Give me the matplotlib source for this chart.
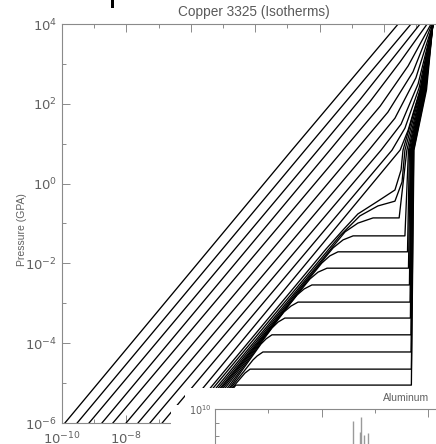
import matplotlib
matplotlib.use("Agg")
import matplotlib.pyplot as plt
import numpy as np
from matplotlib.patches import Polygon, Rectangle
from matplotlib.ticker import FixedLocator, FuncFormatter, NullFormatter

plt.rcParams['font.family'] = ['Liberation Sans', 'DejaVu Sans']
plt.rcParams['mathtext.fontset'] = 'dejavusans'

# ---- Copper 3325 isotherms: vertices as log10 density (g/cc), log10 pressure (GPa)
# hot (supercritical) isotherms
hot_log_rho = [
    [-9.91, -2.86, 0.44],
    [-9.53, -2.45, 0.84],
    [-9.16, -2.05, -0.75, 1.12],
    [-8.76, -1.68, -0.44, 0.50, 1.34],
    [-8.42, -1.27, -0.12, 0.75, 1.46],
    [-8.01, -0.87, 0.12, 0.90, 1.49],
    [-7.64, -0.47, 0.34, 0.99, 1.52],
    [-7.27, -0.09, 0.53, 1.06, 1.52],
    [-6.89, 0.25, 0.65, 1.09, 1.52],
    [-6.52, 0.50, 0.75, 1.12, 1.52],
]
hot_log_p = [
    [-6.0, 0.84, 4.0],
    [-6.0, 0.84, 4.0],
    [-6.0, 0.84, 2.10, 4.0],
    [-6.0, 0.84, 2.05, 3.05, 4.0],
    [-6.0, 0.84, 1.94, 2.95, 4.0],
    [-6.0, 0.84, 1.79, 2.80, 4.0],
    [-6.0, 0.84, 1.64, 2.65, 4.0],
    [-6.0, 0.84, 1.49, 2.50, 4.0],
    [-6.0, 0.84, 1.39, 2.40, 4.0],
    [-6.0, 0.84, 1.34, 2.35, 4.0],
]

# isotherms just above the critical point (shoulder shape)
crit_log_rho = [
    [-6.30, -5.37, -1.80, -1.27, -0.81, -0.19, 0.34, 0.53, 0.59, 1.13, 1.52],
    [-6.21, -5.28, -1.37, -0.75, -0.19, 0.34, 0.56, 0.65, 1.15, 1.52],
]
crit_log_p = [
    [-6.0, -5.10, -1.64, -1.16, -0.76, -0.44, -0.16, 0.34, 0.84, 2.35, 4.0],
    [-6.0, -5.10, -1.31, -0.81, -0.56, -0.44, 0.04, 0.84, 2.35, 4.0],
]

# subcritical isotherms: vapour branch, liquid-vapour plateau, liquid branch
sub_log_rho = [
    [-6.12, -5.19, -1.21, -0.81, -0.34, 0.47, 0.71, 1.17, 1.52],
    [-6.04, -5.12, -1.58, -1.27, -0.96, 0.65, 0.76, 1.18, 1.52],
    [-5.96, -5.06, -1.93, -1.68, -1.43, 0.73, 0.79, 1.20, 1.52],
    [-5.92, -5.02, -2.30, -2.05, -1.77, 0.76, 0.82, 1.21, 1.52],
    [-5.87, -4.97, -2.70, -2.48, -2.24, 0.79, 0.84, 1.23, 1.52],
    [-5.81, -4.91, -3.11, -2.89, -2.67, 0.81, 0.85, 1.24, 1.52],
    [-5.75, -4.84, -3.48, -3.29, -3.08, 0.82, 0.87, 1.26, 1.52],
    [-5.68, -4.78, -3.82, -3.66, -3.48, 0.84, 0.89, 1.27, 1.52],
    [-5.64, -4.74, -4.07, -3.94, -3.76, 0.84, 0.90, 1.29, 1.52],
    [-5.59, -4.69, -4.32, -4.16, 0.85, 0.92, 1.30, 1.52],
    [-5.55, -4.60, 0.85, 0.93, 1.32, 1.52],
]
sub_log_p = [
    [-6.0, -5.10, -1.21, -0.99, -0.86, -0.86, 0.84, 2.35, 4.0],
    [-6.0, -5.10, -1.61, -1.41, -1.31, -1.31, 0.84, 2.35, 4.0],
    [-6.0, -5.10, -1.99, -1.81, -1.71, -1.71, 0.84, 2.35, 4.0],
    [-6.0, -5.10, -2.39, -2.22, -2.12, -2.12, 0.84, 2.35, 4.0],
    [-6.0, -5.10, -2.79, -2.64, -2.54, -2.54, 0.84, 2.35, 4.0],
    [-6.0, -5.10, -3.22, -3.07, -2.97, -2.97, 0.84, 2.35, 4.0],
    [-6.0, -5.10, -3.62, -3.47, -3.37, -3.37, 0.84, 2.35, 4.0],
    [-6.0, -5.10, -4.02, -3.89, -3.79, -3.79, 0.84, 2.35, 4.0],
    [-6.0, -5.10, -4.42, -4.32, -4.22, -4.22, 0.84, 2.35, 4.0],
    [-6.0, -5.10, -4.75, -4.65, -4.65, 0.84, 2.35, 4.0],
    [-6.0, -5.05, -5.05, 0.84, 2.35, 4.0],
]

x_major_exp = [-10, -8, -6, -4, -2, 0, 2]
x_minor_exp = [-9, -7, -5, -3, -1, 1]
y_major_exp = [-6, -4, -2, 0, 2, 4]
y_minor_exp = [-5, -3, -1, 1, 3]

# ---- Aluminum panel (partially visible)
al_log_rho = [-7.41, -7.28, -7.26, -7.20, -7.13]
al_log_top = [9.11, 8.30, 9.41, 8.07, 8.22]

W, H = 436, 444
fig = plt.figure(figsize=(W / 100, H / 100), dpi=100)
fig.patch.set_facecolor('white')

GRAY = '#8a8a8a'
TXT = '#606060'


def pow10(v, pos=None):
    return r'$10^{%d}$' % int(round(np.log10(v)))


ax = fig.add_axes([62 / W, 1 - 423 / H, 386.4 / W, 399 / H])
ax.set_xscale('log')
ax.set_yscale('log')

for group_r, group_p in ((hot_log_rho, hot_log_p), (crit_log_rho, crit_log_p),
                         (sub_log_rho, sub_log_p)):
    for r, p in zip(group_r, group_p):
        ax.plot(10.0 ** np.array(r), 10.0 ** np.array(p), color='black', lw=0.95,
                solid_joinstyle='round')

ax.set_xlim(1e-10, 1e2)
ax.set_ylim(1e-6, 1e4)
ax.xaxis.set_major_locator(FixedLocator([10.0 ** e for e in x_major_exp]))
ax.xaxis.set_minor_locator(FixedLocator([10.0 ** e for e in x_minor_exp]))
ax.yaxis.set_major_locator(FixedLocator([10.0 ** e for e in y_major_exp]))
ax.yaxis.set_minor_locator(FixedLocator([10.0 ** e for e in y_minor_exp]))
ax.xaxis.set_major_formatter(FuncFormatter(pow10))
ax.yaxis.set_major_formatter(FuncFormatter(pow10))
ax.xaxis.set_minor_formatter(NullFormatter())
ax.yaxis.set_minor_formatter(NullFormatter())
ax.tick_params(which='both', direction='in', top=True, right=False,
               color=GRAY, width=0.7, labelcolor=TXT, labelsize=9.5)
ax.tick_params(which='major', length=5.8)
ax.tick_params(which='minor', length=3.0)
ax.tick_params(axis='x', pad=5.5)
ax.tick_params(axis='y', pad=3.5)
for s in ax.spines.values():
    s.set_color(GRAY)
    s.set_linewidth(0.8)

fig.text(254 / W, 1 - 12 / H, 'Copper 3325 (Isotherms)', ha='center', va='center',
         fontsize=9.8, color='#5a5a5a')
fig.text(22 / W, 1 - 230 / H, 'Pressure (GPA)', rotation=90, ha='center',
         va='center', fontsize=7.5, color=TXT)

fig.patches.append(Rectangle((111 / W, 1 - 8 / H), 3 / W, 8 / H,
                             transform=fig.transFigure, facecolor='black',
                             edgecolor='none'))

# white panel of the Aluminum figure
cover = fig.add_axes([0, 0, 1, 1], zorder=5)
cover.axis('off')
cover.set_xlim(0, W)
cover.set_ylim(H, 0)
cover.add_patch(Polygon([[185, 388], [W, 388], [W, H], [171, H], [171, 405], [185, 405]],
                        closed=True, facecolor='white', edgecolor='none'))

ins_h = 0.6
ins_w = 0.8
ins = fig.add_axes([215 / W, 1 - 409 / H - ins_h, ins_w, ins_h], zorder=6)
ins.patch.set_alpha(0)
ins.set_xscale('log')
ins.set_yscale('log')
ins.set_xlim(1e-10, 10 ** (-10 + ins_w * W / 53.3))
ins.set_ylim(10 ** (10 - ins_h * H / 13.5), 1e10)
ins.vlines([10.0 ** v for v in al_log_rho], 10 ** (10 - ins_h * H / 13.5),
           [10.0 ** v for v in al_log_top], color='#9a9a9a', lw=1.0)
ins.xaxis.set_major_locator(FixedLocator([1e-10, 1e-8, 1e-6, 1e-4]))
ins.xaxis.set_minor_locator(FixedLocator([1e-9, 1e-7, 1e-5]))
ins.yaxis.set_major_locator(FixedLocator([1e10, 1e5, 1e0, 1e-5]))
ins.yaxis.set_minor_locator(FixedLocator([10.0 ** e for e in range(-9, 10) if e % 5]))
ins.xaxis.set_major_formatter(NullFormatter())
ins.xaxis.set_minor_formatter(NullFormatter())
ins.yaxis.set_major_formatter(FuncFormatter(pow10))
ins.yaxis.set_minor_formatter(NullFormatter())
ins.tick_params(which='both', direction='in', top=True, bottom=False, right=False,
                labelbottom=False, color=GRAY, width=0.7, labelcolor=TXT, labelsize=7)
ins.tick_params(which='major', length=5.5, pad=2)
ins.tick_params(which='minor', length=3.0)
for name, s in ins.spines.items():
    s.set_color(GRAY)
    s.set_linewidth(0.8)
    if name in ('right', 'bottom'):
        s.set_visible(False)

fig.text(429 / W, 1 - 398 / H, 'Aluminum', ha='right', va='center', fontsize=7.5,
         color=TXT, zorder=7)

fig.savefig('out.png', dpi=100, facecolor='white')
